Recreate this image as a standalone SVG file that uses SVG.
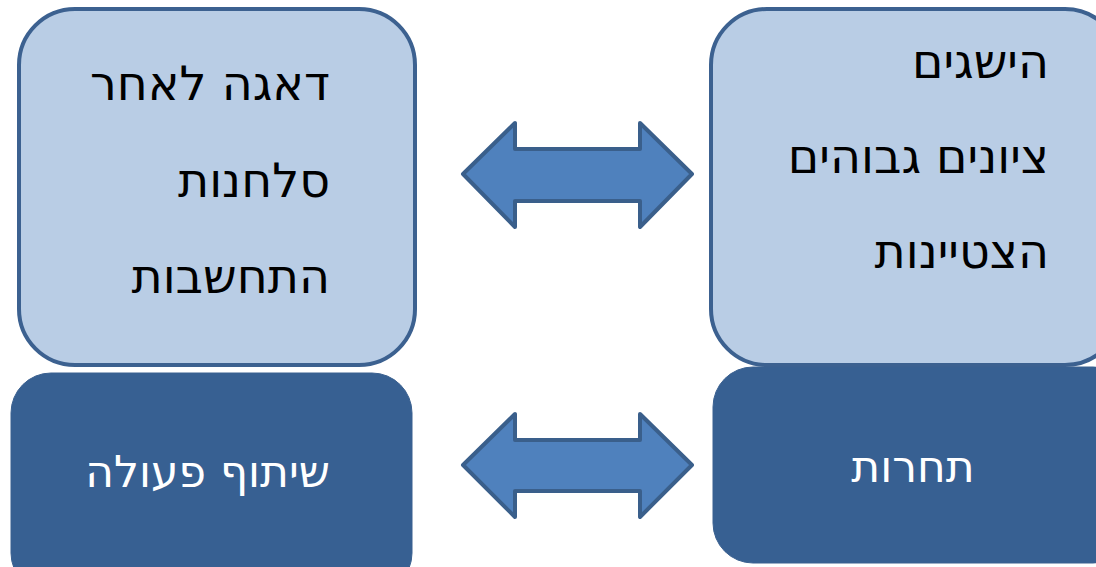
<svg xmlns="http://www.w3.org/2000/svg" width="1096" height="567" viewBox="0 0 1096 567">
<style>
.light{fill:#b9cde5;stroke:#3c6190;stroke-width:4}
.dark{fill:#376092;stroke:#3a6090;stroke-width:1}
.arrow{fill:#4f81bd;stroke:#3a5f8b;stroke-width:4;stroke-linejoin:round}
.t{font-family:"DejaVu Sans",sans-serif;font-size:47.5px;fill:#000;text-anchor:end}
.w{font-family:"DejaVu Sans",sans-serif;font-size:44px;fill:#fff}
</style>
<rect width="1096" height="567" fill="#fff"/>
<g id="node-cooperation-traits">
<rect class="light" x="19" y="9" width="396" height="356" rx="56"/>
<text class="t" x="330" y="100">דאגה לאחר</text>
<text class="t" x="330" y="197">סלחנות</text>
<text class="t" x="330" y="293">התחשבות</text>
</g>
<g id="node-competition-traits">
<rect class="light" x="711" y="9" width="410" height="356" rx="56"/>
<text class="t" x="1049" y="78">הישגים</text>
<text class="t" x="1049" y="173">ציונים גבוהים</text>
<text class="t" x="1049" y="268">הצטיינות</text>
</g>
<g id="node-cooperation">
<rect class="dark" x="11" y="373" width="401" height="220" rx="40"/>
<text class="w" x="330" y="487" text-anchor="end">שיתוף פעולה</text>
</g>
<g id="node-competition">
<rect class="dark" x="713" y="367" width="420" height="196" rx="40"/>
<text class="w" x="913" y="482" text-anchor="middle">תחרות</text>
</g>
<g id="connectors">
<path class="arrow" d="M463,174 L515,123 L515,149 L640,149 L640,123 L692,174 L640,227 L640,201 L515,201 L515,227 Z"/>
<path class="arrow" d="M463,465 L515,414 L515,440 L640,440 L640,414 L692,465 L640,517 L640,491 L515,491 L515,517 Z"/>
</g>
</svg>
